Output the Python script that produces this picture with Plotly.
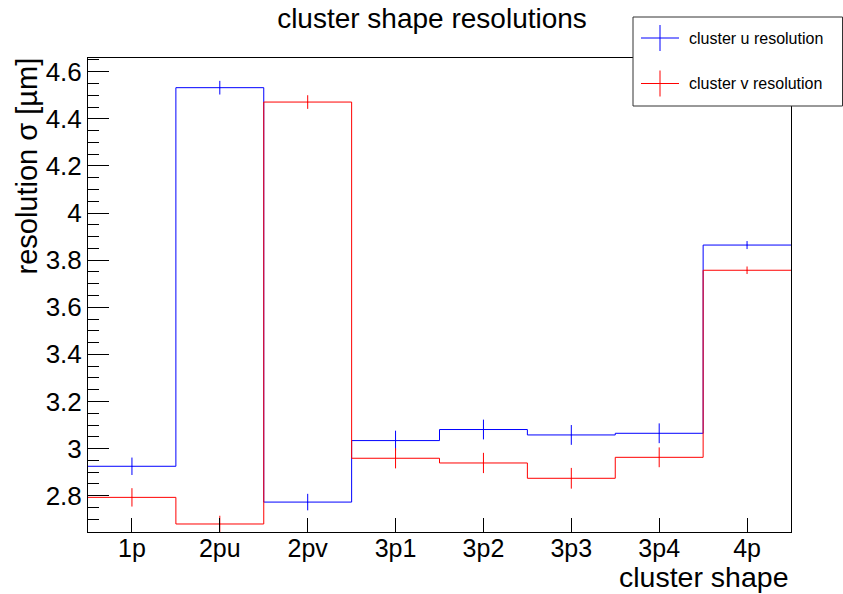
import plotly.graph_objects as go

# ---- data ----
categories = ["1p", "2pu", "2pv", "3p1", "3p2", "3p3", "3p4", "4p"]
u_res = [2.925, 4.532, 2.773, 3.034, 3.081, 3.058, 3.065, 3.864]
u_err = [0.037, 0.029, 0.035, 0.042, 0.042, 0.042, 0.042, 0.017]
v_res = [2.793, 2.680, 4.471, 2.959, 2.939, 2.874, 2.963, 3.757]
v_err = [0.039, 0.035, 0.029, 0.043, 0.043, 0.044, 0.042, 0.016]
series_names = ["cluster u resolution", "cluster v resolution"]
colors = ["#0000ff", "#ff0000"]

W, H = 843, 594
L, R, T, B = 88, 52, 58, 62
FONT = "Liberation Sans, Arial, Helvetica, sans-serif"

centers = list(range(len(categories)))
edges = [c - 0.5 for c in centers] + [centers[-1] + 0.5]

fig = go.Figure()
for vals, errs, col, name in [(u_res, u_err, colors[0], series_names[0]),
                              (v_res, v_err, colors[1], series_names[1])]:
    fig.add_trace(go.Scatter(
        x=edges, y=vals + [vals[-1]], mode="lines", line_shape="hv",
        line=dict(color=col, width=1), showlegend=False, hoverinfo="skip"))
    fig.add_trace(go.Scatter(
        x=centers, y=vals, mode="markers", name=name,
        marker=dict(size=1, color=col),
        error_y=dict(type="data", array=errs, color=col, thickness=1, width=0),
        showlegend=False))

pw, ph = W - L - R, H - T - B
def px(xp):
    return (xp - L) / pw
def py(yp):
    return (H - B - yp) / ph

shapes = []
annotations = []
# legend box
shapes.append(dict(type="rect", xref="paper", yref="paper",
                   x0=px(633), x1=px(842.5), y0=py(106), y1=py(17),
                   fillcolor="white", line=dict(color="#333333", width=1), layer="above"))
for i, (name, col) in enumerate(zip(series_names, colors)):
    yc = 38 + i * 45.5
    shapes.append(dict(type="line", xref="paper", yref="paper",
                       x0=px(641), x1=px(679), y0=py(yc), y1=py(yc),
                       line=dict(color=col, width=1), layer="above"))
    shapes.append(dict(type="line", xref="paper", yref="paper",
                       x0=px(660), x1=px(660), y0=py(yc - 13), y1=py(yc + 13),
                       line=dict(color=col, width=1), layer="above"))
    annotations.append(dict(text=name, xref="paper", yref="paper",
                            x=px(687), y=py(yc), xanchor="left", yanchor="middle",
                            showarrow=False, font=dict(family=FONT, size=16, color="black")))

# axis titles
annotations.append(dict(text="resolution σ [µm]", xref="paper", yref="paper",
                        x=px(26), y=py(56), xanchor="center", yanchor="top", textangle=-90,
                        showarrow=False, font=dict(family=FONT, size=29, color="black")))
annotations.append(dict(text="cluster shape", xref="paper", yref="paper",
                        x=px(790), y=py(577), xanchor="right", yanchor="middle",
                        borderpad=0,
                        showarrow=False, font=dict(family=FONT, size=28.5, color="black")))

fig.update_layout(
    width=W, height=H,
    margin=dict(l=L, r=R, t=T, b=B),
    paper_bgcolor="white", plot_bgcolor="white",
    title=dict(text="cluster shape resolutions", x=432 / W, xanchor="center",
               y=1 - 18 / H, yanchor="middle", yref="container",
               font=dict(family=FONT, size=28, color="black")),
    shapes=shapes, annotations=annotations,
    showlegend=False,
    xaxis=dict(range=[-0.5, 7.5], tickmode="array", tickvals=centers, ticktext=categories,
               ticks="inside", ticklen=14, tickcolor="black", showgrid=False, zeroline=False,
               showline=True, linecolor="black", linewidth=1, mirror=True,
               ticklabelstandoff=-6,
               tickfont=dict(family=FONT, size=25, color="black")),
    yaxis=dict(range=[2.646, 4.658], tickmode="linear", tick0=0, dtick=0.2,
               ticks="inside", ticklen=21, tickcolor="black", showgrid=False, zeroline=False,
               showline=True, linecolor="black", linewidth=1, mirror=True,
               minor=dict(ticks="inside", ticklen=11, dtick=0.05, tick0=0, tickcolor="black", showgrid=False),
               tickfont=dict(family=FONT, size=26, color="black")),
)

fig.write_html("out.html", config={"displayModeBar": False},
               post_script="document.body.style.margin='0';document.body.style.padding='0';")
